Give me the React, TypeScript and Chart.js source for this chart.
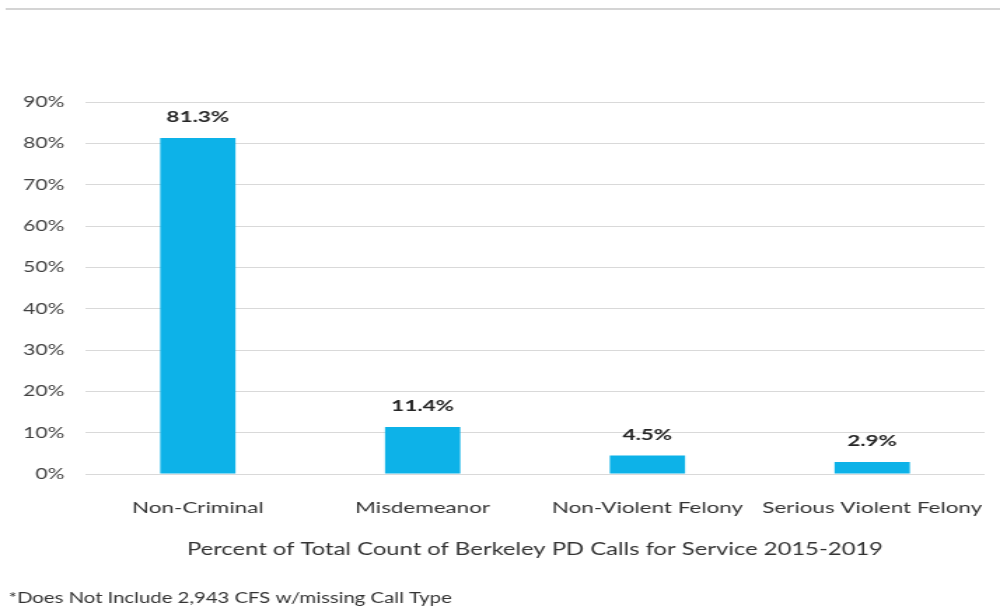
import React, { useEffect, useRef } from "react";
import { Chart, registerables } from "chart.js";

Chart.register(...registerables);

const categories = ["Non-Criminal", "Misdemeanor", "Non-Violent Felony", "Serious Violent Felony"];
const values = [81.3, 11.4, 4.5, 2.9];
const valueLabels = ["81.3%", "11.4%", "4.5%", "2.9%"];
const yTicks = [0, 10, 20, 30, 40, 50, 60, 70, 80, 90];
const xTitle = "Percent of Total Count of Berkeley PD Calls for Service 2015-2019";
const footnote = "*Does Not Include 2,943 CFS w/missing Call Type";

const FONT = "Lato, 'Open Sans', sans-serif";
// The reference picture is stretched horizontally; draw narrower and stretch with CSS.
const STRETCH = 1.4;
const W = 1000;
const H = 607;
const INNER_W = Math.round(W / STRETCH);

const labelPlugin = {
  id: "valueLabels",
  afterDatasetsDraw(chart: any) {
    const ctx = chart.ctx;
    const meta = chart.getDatasetMeta(0);
    ctx.save();
    ctx.font = `bold 16px ${FONT}`;
    ctx.fillStyle = "#262626";
    ctx.textAlign = "center";
    ctx.textBaseline = "middle";
    meta.data.forEach((bar: any, i: number) => {
      ctx.fillText(valueLabels[i], bar.x, bar.y - 21);
    });
    ctx.restore();
  },
  beforeDraw(chart: any) {
    const ctx = chart.ctx;
    ctx.save();
    ctx.strokeStyle = "#d4d4d4";
    ctx.lineWidth = 2;
    ctx.beginPath();
    ctx.moveTo(4, 9);
    ctx.lineTo(chart.width, 9);
    ctx.stroke();
    ctx.restore();
  },
};

export default function App() {
  const ref = useRef<HTMLCanvasElement>(null);
  useEffect(() => {
    if (!ref.current) return;
    const chart = new Chart(ref.current, {
      type: "bar",
      data: {
        labels: categories,
        datasets: [
          {
            data: values,
            backgroundColor: "#0db2e8",
            barPercentage: 0.67,
            categoryPercentage: 0.5,
          },
        ],
      },
      options: {
        animation: false,
        responsive: false,
        maintainAspectRatio: false,
        devicePixelRatio: 1,
        layout: { padding: { top: 102, right: 11, left: 6, bottom: 0 } },
        plugins: {
          legend: { display: false },
          tooltip: { enabled: false },
          subtitle: {
            display: true,
            text: footnote,
            position: "bottom",
            align: "start",
            color: "#333",
            font: { family: FONT, size: 14.5 },
            padding: { top: 30, bottom: 0 },
          },
        },
        scales: {
          y: {
            min: 0,
            max: 90,
            afterBuildTicks(scale: any) {
              scale.ticks = yTicks.map((v) => ({ value: v }));
            },
            afterFit(scale: any) {
              scale.width = 55;
            },
            border: { display: false },
            grid: { color: "#d9d9d9", drawTicks: false, lineWidth: 1 },
            ticks: {
              padding: 15,
              color: "#404040",
              font: { family: FONT, size: 15 },
              callback: (v: any) => `${v}%`,
            },
          },
          x: {
            afterFit(scale: any) {
              scale.paddingLeft = 0;
              scale.paddingRight = 0;
            },
            border: { display: false },
            grid: { display: false, drawTicks: false },
            ticks: {
              padding: 24,
              color: "#333",
              font: { family: FONT, size: 16 },
              maxRotation: 0,
              autoSkip: false,
            },
            title: {
              display: true,
              text: xTitle,
              color: "#333",
              font: { family: FONT, size: 17 },
              padding: { top: -2, bottom: 0 },
            },
          },
        },
      },
      plugins: [labelPlugin],
    });
    return () => chart.destroy();
  }, []);
  return (
    <div style={{ position: "fixed", left: 0, top: 0, width: W, height: H, background: "#fff" }}>
      <canvas
        ref={ref}
        width={INNER_W}
        height={H}
        style={{ display: "block", width: `${W}px`, height: `${H}px` }}
      />
    </div>
  );
}
